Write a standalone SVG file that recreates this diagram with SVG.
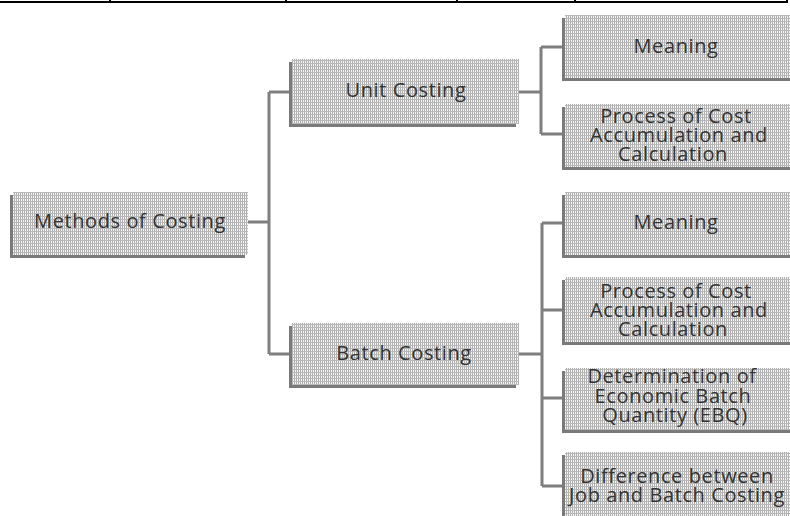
<svg xmlns="http://www.w3.org/2000/svg" width="790" height="516" viewBox="0 0 790 516">
<defs>
<pattern id="hatch" x="0" y="0" width="2" height="3" patternUnits="userSpaceOnUse">
<rect width="2" height="3" fill="#f4f4f4"/>
<rect x="0" y="0" width="1" height="3" fill="#b0b0b0"/>
<rect x="0" y="0" width="2" height="1" fill="#b8b8b8"/>
</pattern>
</defs>
<style>
.shadow{fill:#7a7a7a}
.box{fill:url(#hatch)}
.lbl{font-family:"Open Sans","Liberation Sans",sans-serif;font-size:20px;letter-spacing:0.6px;fill:#333;text-anchor:middle}
.conn{fill:none;stroke:#7f7f7f;stroke-width:3}
.rule{fill:none;stroke:#000;stroke-width:2}
</style>
<rect width="790" height="516" fill="#fff"/>
<g id="top-rule">
<path class="rule" d="M0 2H788M110 0V3M286 0V3M457 0V3M575 0V3M787 0V3"/>
</g>
<g id="connectors">
<path class="conn" d="M248 222H269M269 92V354M269 92H290M269 354H290"/>
<path class="conn" d="M519 92H541M541 47V134M541 47H563M541 134H563"/>
<path class="conn" d="M519 354H542M542 223V486M542 223H563M542 310H563M542 398H563M542 486H563"/>
</g>
<g id="methods">
<rect class="shadow" x="10" y="195" width="235" height="63"/>
<rect class="box" x="13" y="192" width="235" height="63"/>
<text class="lbl" x="130" y="228">Methods of Costing</text>
</g>
<g id="unit">
<rect class="shadow" x="289" y="62" width="227" height="65"/>
<rect class="box" x="292" y="59" width="227" height="65"/>
<text class="lbl" x="406" y="97">Unit Costing</text>
</g>
<g id="batch">
<rect class="shadow" x="289" y="326" width="227" height="62"/>
<rect class="box" x="292" y="323" width="227" height="62"/>
<text class="lbl" x="404" y="360">Batch Costing</text>
</g>
<g id="unit-meaning">
<rect class="shadow" x="562" y="18" width="235" height="63"/>
<rect class="box" x="565" y="15" width="235" height="63"/>
<text class="lbl" x="676" y="53">Meaning</text>
</g>
<g id="unit-process">
<rect class="shadow" x="562" y="107" width="235" height="63"/>
<rect class="box" x="565" y="104" width="235" height="63"/>
<text class="lbl" x="676" y="123">Process of Cost</text>
<text class="lbl" x="679" y="142">Accumulation and</text>
<text class="lbl" x="673" y="161">Calculation</text>
</g>
<g id="batch-meaning">
<rect class="shadow" x="562" y="195" width="235" height="63"/>
<rect class="box" x="565" y="192" width="235" height="63"/>
<text class="lbl" x="676" y="229">Meaning</text>
</g>
<g id="batch-process">
<rect class="shadow" x="562" y="280" width="235" height="65"/>
<rect class="box" x="565" y="277" width="235" height="65"/>
<text class="lbl" x="676" y="298">Process of Cost</text>
<text class="lbl" x="679" y="317">Accumulation and</text>
<text class="lbl" x="673" y="336">Calculation</text>
</g>
<g id="batch-ebq">
<rect class="shadow" x="562" y="371" width="235" height="62"/>
<rect class="box" x="565" y="368" width="235" height="62"/>
<text class="lbl" x="672" y="383">Determination of</text>
<text class="lbl" x="673" y="403">Economic Batch</text>
<text class="lbl" x="675" y="422">Quantity (EBQ)</text>
</g>
<g id="batch-difference">
<rect class="shadow" x="562" y="455" width="235" height="70"/>
<rect class="box" x="565" y="452" width="235" height="70"/>
<text class="lbl" x="677" y="483">Difference between</text>
<text class="lbl" x="677" y="502">Job and Batch Costing</text>
</g>
</svg>
